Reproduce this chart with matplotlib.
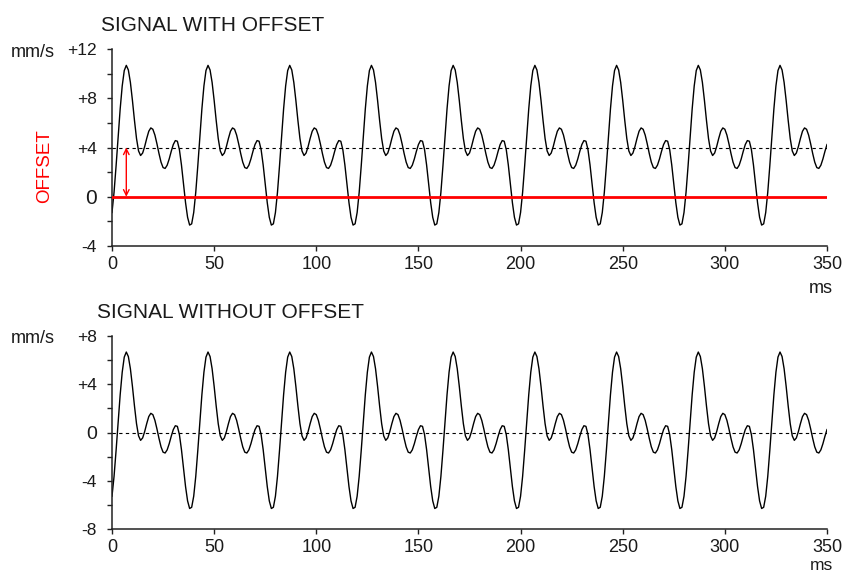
import matplotlib
matplotlib.use('Agg')
import matplotlib.pyplot as plt
from matplotlib.ticker import MultipleLocator

plt.rcParams['font.family'] = ['Liberation Sans', 'DejaVu Sans']

# one period of the signal (40 ms), read every 1 ms, without offset (mm/s)
periode = [-5.28, -3.64, -1.49, 0.87, 3.13, 5.0, 6.25, 6.67, 6.3, 5.29,
           3.83, 2.2, 0.73, -0.28, -0.65, -0.45, 0.08, 0.74, 1.32, 1.59,
           1.48, 1.01, 0.30, -0.49, -1.19, -1.63, -1.70, -1.44, -0.93, -0.31,
           0.24, 0.56, 0.51, -0.18, -1.42, -2.96, -4.48, -5.67, -6.30, -6.2]
offset = 4
temps = list(range(0, 351))  # ms
signal = [periode[t % len(periode)] for t in temps]
signal_offset = [v + offset for v in signal]

xticks = [0, 50, 100, 150, 200, 250, 300, 350]
yticks_haut = [-4, 0, 4, 8, 12]
ylabels_haut = ['-4', '0', '+4', '+8', '+12']
yticks_bas = [-8, -4, 0, 4, 8]
ylabels_bas = ['-8', '-4', '0', '+4', '+8']

texte = '#1a1a1a'
W, H = 847, 574

fig = plt.figure(figsize=(8.47, 5.74), dpi=100)
ax1 = fig.add_axes([112 / W, 1 - 246 / H, 715 / W, 197 / H])
ax2 = fig.add_axes([112 / W, 1 - 529 / H, 715 / W, 193 / H])


def px(x, y):
    # pixel coordinates (from top-left) -> figure fraction
    return x / W, 1 - y / H


def style_axe(ax, yticks, ylabels, taille_zero):
    for s in ['top', 'right']:
        ax.spines[s].set_visible(False)
    for s in ['left', 'bottom']:
        ax.spines[s].set_linewidth(1.1)
        ax.spines[s].set_color('#222222')
    ax.set_xlim(0, 350)
    ax.set_ylim(yticks[0], yticks[-1])
    ax.set_xticks(xticks)
    ax.set_xticklabels([str(x) for x in xticks], fontsize=13, color=texte)
    ax.set_yticks(yticks)
    ax.set_yticklabels(ylabels, fontsize=12.5, color=texte)
    ax.get_yticklabels()[yticks.index(0)].set_fontsize(taille_zero)
    ax.yaxis.set_minor_locator(MultipleLocator(2))
    ax.tick_params(axis='both', which='both', direction='out', length=3.4,
                   width=1, color='#222222')
    ax.tick_params(axis='x', pad=3.5)
    ax.tick_params(axis='y', pad=7.5)


# signal avec offset
style_axe(ax1, yticks_haut, ylabels_haut, 15)
ax1.plot(temps, signal_offset, color='black', linewidth=1)
ax1.axhline(offset, color='black', linewidth=0.8, linestyle=(0, (3, 3)))
ax1.axhline(0, color='red', linewidth=2, zorder=5)
ax1.annotate('', xy=(7, 0), xytext=(7, offset),
             arrowprops=dict(arrowstyle='<->', color='red', lw=1,
                             shrinkA=0, shrinkB=0))
fig.text(*px(101, 31), 'SIGNAL WITH OFFSET', fontsize=15, va='baseline', color=texte)
fig.text(*px(11, 57), 'mm/s', fontsize=13, va='baseline', color=texte)
fig.text(*px(44.5, 166), 'OFFSET', fontsize=13.5, color='red',
         rotation=90, ha='center', va='center')
fig.text(*px(833, 293), 'ms', fontsize=13, ha='right', va='baseline', color=texte)

# signal sans offset
style_axe(ax2, yticks_bas, ylabels_bas, 14)
ax2.plot(temps, signal, color='black', linewidth=1)
ax2.axhline(0, color='black', linewidth=0.8, linestyle=(0, (3, 3)))
fig.text(*px(97, 318), 'SIGNAL WITHOUT OFFSET', fontsize=15, va='baseline', color=texte)
fig.text(*px(11, 343), 'mm/s', fontsize=13, va='baseline', color=texte)
fig.text(*px(833, 570), 'ms', fontsize=12.5, ha='right', va='baseline', color=texte)

fig.savefig('out.png', dpi=100)
